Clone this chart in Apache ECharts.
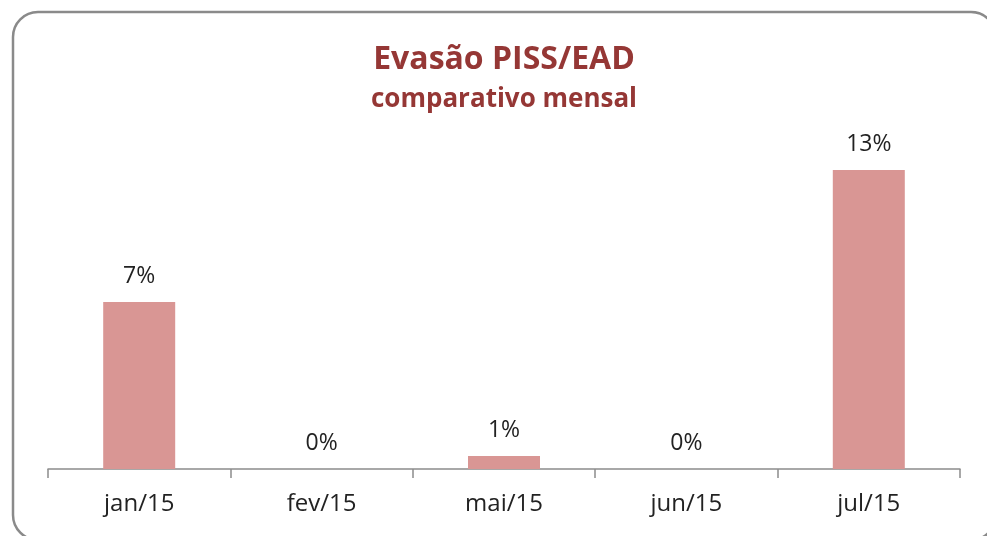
<!DOCTYPE html>
<html>
<head>
<meta charset="utf-8">
<script src="https://cdn.jsdelivr.net/npm/echarts@6/dist/echarts.min.js"></script>
<style>
html,body{margin:0;padding:0;background:#fff;}
#c{width:987px;height:536px;}
</style>
</head>
<body>
<div id="c"></div>
<script>
const categories = ['jan/15', 'fev/15', 'mai/15', 'jun/15', 'jul/15'];
const evasao = [0.0726, 0, 0.0057, 0, 0.13];
const titleText = 'Evasão PISS/EAD';
const subtitleText = 'comparativo mensal';

const chart = echarts.init(document.getElementById('c'));
chart.setOption({
  backgroundColor: '#fff',
  animation: false,
  graphic: [{
    type: 'rect',
    shape: { x: 13, y: 12, width: 983, height: 528, r: 25 },
    style: { fill: 'none', stroke: '#8a8a8a', lineWidth: 2.5 },
    z: 0
  }],
  title: {
    text: titleText,
    subtext: subtitleText,
    left: 499,
    textAlign: 'center',
    top: 39,
    itemGap: 11,
    textStyle: { fontFamily: 'Open Sans', fontWeight: 'bold', fontSize: 32, color: '#953735' },
    subtextStyle: { fontFamily: 'Open Sans', fontWeight: 'bold', fontSize: 26, color: '#953735' }
  },
  grid: { left: 48, right: 27, top: 147, bottom: 67 },
  xAxis: {
    type: 'category',
    data: categories,
    axisLine: { lineStyle: { color: '#8c8c8c', width: 1.5 } },
    axisTick: { show: true, length: 9, lineStyle: { color: '#8c8c8c', width: 1.5 } },
    axisLabel: { fontFamily: 'Open Sans', fontSize: 24, color: '#222', margin: 23 }
  },
  yAxis: {
    type: 'value', min: 0, max: 0.14, show: false,
    splitLine: { show: false }
  },
  series: [{
    type: 'bar',
    data: evasao,
    barWidth: 72,
    itemStyle: { color: '#D99694' },
    label: {
      show: true,
      position: 'top',
      distance: 14,
      fontFamily: 'Open Sans',
      fontSize: 23,
      color: '#222',
      formatter: p => Math.round(p.value * 100) + '%'
    }
  }]
});
</script>
</body>
</html>
